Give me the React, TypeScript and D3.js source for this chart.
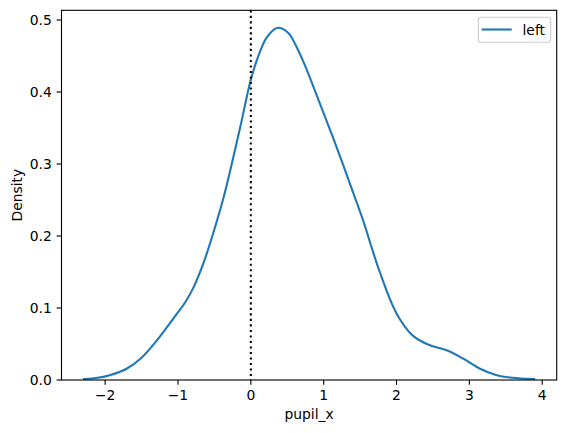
import React from "react";
import * as d3 from "d3";

const xs = [-2.29, -2.1, -1.925, -1.7, -1.5, -1.286, -1.059, -0.9, -0.785, -0.648, -0.51, -0.375, -0.146, -0.01, 0.082, 0.219, 0.364, 0.515, 0.606, 0.743, 0.856, 0.971, 1.085, 1.198, 1.313, 1.427, 1.54, 1.77, 2.0, 2.22, 2.45, 2.68, 2.91, 3.14, 3.365, 3.59, 3.89];
const density = [0.0014, 0.003, 0.007, 0.016, 0.031, 0.0555, 0.086, 0.108, 0.129, 0.163, 0.206, 0.253, 0.351, 0.413, 0.444, 0.476, 0.489, 0.482, 0.467, 0.437, 0.408, 0.378, 0.348, 0.318, 0.286, 0.254, 0.222, 0.15, 0.0925, 0.062, 0.0485, 0.0416, 0.03, 0.016, 0.007, 0.003, 0.0015];
const xTicks = [-2, -1, 0, 1, 2, 3, 4];
const yTicks = [0, 0.1, 0.2, 0.3, 0.4, 0.5];
const seriesName = "left";
const xLabel = "pupil_x";
const yLabel = "Density";
const refLine = 0;

const W = 567, H = 433;
const L = 61.5, R = 556.7, T = 10.3, B = 380;
const FONT = "DejaVu Sans, sans-serif";
const FS = 13.9;
const BLUE = "#1f77b4";

export default function App() {
  const xMin = d3.min(xs)!, xMax = d3.max(xs)!;
  const xPad = (xMax - xMin) * 0.05;
  const x = d3.scaleLinear().domain([xMin - xPad, xMax + xPad]).range([L, R]);
  const yMax = d3.max(density)! * 1.05;
  const y = d3.scaleLinear().domain([0, yMax]).range([B, T]);
  const pts = xs.map((v, i) => [v, density[i]] as [number, number]);
  const line = d3.line<[number, number]>().x(d => x(d[0])).y(d => y(d[1])).curve(d3.curveCatmullRom.alpha(0.5));
  const tick = 4.86;
  const fmtY = d3.format(".1f");
  const fmtX = (v: number) => (v < 0 ? "\u2212" + Math.abs(v) : String(v));
  return (
    <svg width={W} height={H} style={{ display: "block", position: "absolute", left: 0, top: 0 }} fontFamily={FONT}>
      <rect x={0} y={0} width={W} height={H} fill="#fff" />
      <path d={line(pts)!} fill="none" stroke={BLUE} strokeWidth={2.08} strokeLinejoin="round" strokeLinecap="square" />
      <line x1={x(refLine)} x2={x(refLine)} y1={T} y2={B} stroke="#000" strokeWidth={2.08} strokeDasharray="2.08,3.43" />
      <rect x={L} y={T} width={R - L} height={B - T} fill="none" stroke="#000" strokeWidth={1.11} />
      {xTicks.map(t => (
        <g key={"x" + t}>
          <line x1={x(t)} x2={x(t)} y1={B} y2={B + tick} stroke="#000" strokeWidth={1.11} />
          <text x={x(t)} y={400} textAnchor="middle" fontSize={FS} fill="#000">{fmtX(t)}</text>
        </g>
      ))}
      {yTicks.map(t => (
        <g key={"y" + t}>
          <line x1={L - tick} x2={L} y1={y(t)} y2={y(t)} stroke="#000" strokeWidth={1.11} />
          <text x={L - tick - 4.86} y={y(t) + 5} textAnchor="end" fontSize={FS} fill="#000">{fmtY(t)}</text>
        </g>
      ))}
      <text x={(L + R) / 2} y={419} textAnchor="middle" fontSize={FS} fill="#000">{xLabel}</text>
      <text transform={`translate(21.7,${(T + B) / 2}) rotate(-90)`} textAnchor="middle" fontSize={FS} fill="#000">{yLabel}</text>
      <rect x={478.3} y={17.3} width={72.4} height={25} rx={2.8} fill="#fff" fillOpacity={0.8} stroke="#cccccc" strokeWidth={1.11} />
      <line x1={481.7} x2={511.7} y1={29.5} y2={29.5} stroke={BLUE} strokeWidth={2.08} />
      <text x={522.5} y={34.5} fontSize={FS} fill="#000">{seriesName}</text>
    </svg>
  );
}
